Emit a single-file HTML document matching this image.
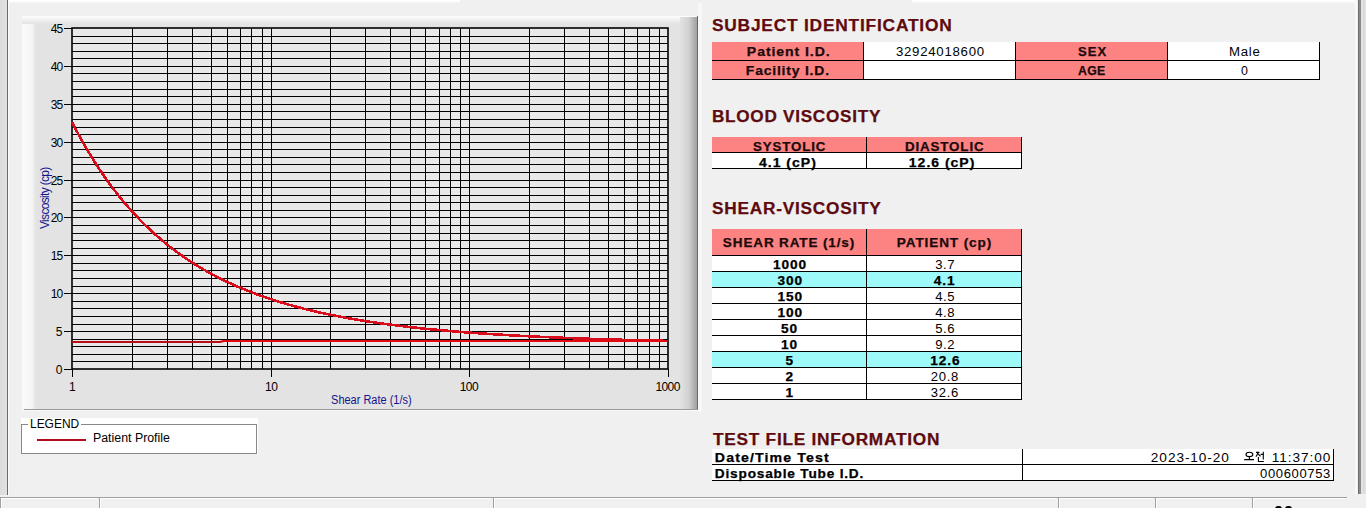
<!DOCTYPE html>
<html><head><meta charset="utf-8">
<style>
html,body{margin:0;padding:0;}
body{width:1366px;height:508px;overflow:hidden;background:#f0f0f0;position:relative;font-family:"Liberation Sans",sans-serif;}
.a{position:absolute;}
.t{position:absolute;white-space:nowrap;}
</style></head><body>

<div class="a" style="left:9px;top:0;width:451px;height:3px;background:linear-gradient(#fff,#fff 40%,#f0f0f0)"></div>
<div class="a" style="left:912px;top:0;width:444px;height:3px;background:linear-gradient(#fff,#fff 40%,#f0f0f0)"></div>
<div class="a" style="left:0;top:0;width:7px;height:495px;background:linear-gradient(90deg,#dcdcdc 0,#dcdcdc 2px,#e4e4e4 3px,#dadada 4px,#e2e2e2 6px)"></div>
<div class="a" style="left:7px;top:0;width:1px;height:495px;background:#6a6a6a"></div>
<div class="a" style="left:8px;top:0;width:1px;height:495px;background:#fbfbfb"></div>
<div class="a" style="left:1355px;top:0;width:2px;height:494px;background:#f8f8f8"></div>
<div class="a" style="left:1358px;top:0;width:1px;height:494px;background:#707070"></div>
<div class="a" style="left:1359px;top:0;width:2px;height:494px;background:#8a8a8a"></div>
<div class="a" style="left:1361px;top:0;width:5px;height:494px;background:linear-gradient(90deg,#e2e2e2,#e2e2e2 2px,#d4d4d4 3px,#e4e4e4 4px)"></div>

<svg class="a" style="left:0;top:0" width="704" height="412">
<defs>
<linearGradient id="gl" x1="0" x2="1" y1="0" y2="0"><stop offset="0" stop-color="#fafafa"/><stop offset="0.7" stop-color="#f5f5f5"/><stop offset="1" stop-color="#e3e3e3"/></linearGradient>
<linearGradient id="gr" x1="0" x2="1" y1="0" y2="0"><stop offset="0" stop-color="#e2e2e2"/><stop offset="0.5" stop-color="#d2d2d2"/><stop offset="1" stop-color="#a0a0a0"/></linearGradient>
<linearGradient id="gt" x1="0" x2="0" y1="0" y2="1"><stop offset="0" stop-color="#fdfdfd"/><stop offset="1" stop-color="#e2e2e2"/></linearGradient>
</defs>
<rect x="22" y="16" width="676" height="393" fill="#e3e3e3"/>
<rect x="22" y="16" width="14" height="393" fill="url(#gl)"/>
<rect x="22" y="16" width="676" height="8" fill="url(#gt)"/>
<rect x="680" y="17" width="17" height="392" fill="url(#gr)"/>
<rect x="697" y="16" width="1" height="393" fill="#6a6a6a"/>
<rect x="24" y="409" width="674" height="1" fill="#9a9a9a"/>
<rect x="21" y="410" width="677" height="1" fill="#f8f8f8"/>
<rect x="698" y="3" width="4" height="409" fill="#f7f7f7"/>
<rect x="72" y="28" width="596" height="341" fill="#e8e8e8"/>
<path d="M72 361.5H668M72 354.5H668M72 346.5H668M72 339.5H668M72 331.5H668M72 324.5H668M72 316.5H668M72 308.5H668M72 301.5H668M72 293.5H668M72 286.5H668M72 278.5H668M72 270.5H668M72 263.5H668M72 255.5H668M72 248.5H668M72 240.5H668M72 233.5H668M72 225.5H668M72 217.5H668M72 210.5H668M72 202.5H668M72 195.5H668M72 187.5H668M72 180.5H668M72 172.5H668M72 164.5H668M72 157.5H668M72 149.5H668M72 142.5H668M72 134.5H668M72 127.5H668M72 119.5H668M72 111.5H668M72 104.5H668M72 96.5H668M72 89.5H668M72 81.5H668M72 73.5H668M72 66.5H668M72 58.5H668M72 51.5H668M72 43.5H668M72 36.5H668M132.5 28V369M167.5 28V369M192.5 28V369M211.5 28V369M227.5 28V369M240.5 28V369M251.5 28V369M262.5 28V369M271.5 28V369M330.5 28V369M365.5 28V369M390.5 28V369M410.5 28V369M425.5 28V369M439.5 28V369M450.5 28V369M460.5 28V369M469.5 28V369M529.5 28V369M564.5 28V369M589.5 28V369M608.5 28V369M624.5 28V369M637.5 28V369M649.5 28V369M659.5 28V369" stroke="#000" stroke-width="1" fill="none" shape-rendering="crispEdges"/>
<path d="M64 369.5H72M64 331.5H72M64 293.5H72M64 255.5H72M64 217.5H72M64 180.5H72M64 142.5H72M64 104.5H72M64 66.5H72M64 28.5H72M72.5 369V377M271.5 369V377M469.5 369V377M668.5 369V377" stroke="#000" stroke-width="1" fill="none" shape-rendering="crispEdges"/>
<rect x="72" y="28" width="596" height="341" fill="none" stroke="#000" stroke-width="1.6"/>
<polyline points="72,122.09 73,124.04 74,125.97 75,127.88 76,129.77 77,131.65 78,133.50 79,135.34 80,137.16 81,138.96 82,140.75 83,142.52 84,144.27 85,146.00 86,147.72 87,149.42 88,151.11 89,152.78 90,154.43 91,156.07 92,157.69 93,159.29 94,160.89 95,162.46 96,164.02 97,165.57 98,167.10 99,168.61 100,170.11 101,171.60 102,173.07 103,174.53 104,175.98 105,177.41 106,178.83 107,180.23 108,181.62 109,183.00 110,184.37 111,185.72 112,187.06 113,188.39 114,189.70 115,191.00 116,192.29 117,193.57 118,194.84 119,196.09 120,197.33 121,198.57 122,199.78 123,200.99 124,202.19 125,203.37 126,204.55 127,205.71 128,206.86 129,208.01 130,209.14 131,210.26 132,211.37 133,212.47 134,213.56 135,214.64 136,215.71 137,216.77 138,217.82 139,218.86 140,219.89 141,220.91 142,221.92 143,222.93 144,223.92 145,224.91 146,225.88 147,226.85 148,227.81 149,228.75 150,229.69 151,230.63 152,231.55 153,232.46 154,233.37 155,234.27 156,235.16 157,236.04 158,236.92 159,237.78 160,238.64 161,239.49 162,240.33 163,241.17 164,242.00 165,242.82 166,243.63 167,244.44 168,245.24 169,246.03 170,246.81 171,247.59 172,248.36 173,249.12 174,249.88 175,250.63 176,251.37 177,252.11 178,252.84 179,253.56 180,254.28 181,254.99 182,255.69 183,256.39 184,257.08 185,257.77 186,258.45 187,259.12 188,259.79 189,260.45 190,261.11 191,261.76 192,262.41 193,263.05 194,263.68 195,264.31 196,264.93 197,265.55 198,266.16 199,266.76 200,267.37 201,267.96 202,268.55 203,269.14 204,269.72 205,270.29 206,270.86 207,271.43 208,271.99 209,272.55 210,273.10 211,273.64 212,274.18 213,274.72 214,275.25 215,275.78 216,276.30 217,276.82 218,277.34 219,277.85 220,278.35 221,278.85 222,279.35 223,279.84 224,280.33 225,280.82 226,281.30 227,281.77 228,282.24 229,282.71 230,283.18 231,283.64 232,284.09 233,284.55 234,284.99 235,285.44 236,285.88 237,286.32 238,286.75 239,287.18 240,287.61 241,288.03 242,288.45 243,288.87 244,289.28 245,289.69 246,290.09 247,290.50 248,290.89 249,291.29 250,291.68 251,292.07 252,292.46 253,292.84 254,293.22 255,293.60 256,293.97 257,294.34 258,294.71 259,295.07 260,295.43 261,295.79 262,296.14 263,296.50 264,296.85 265,297.19 266,297.54 267,297.88 268,298.22 269,298.55 270,298.88 271,299.21 272,299.54 273,299.87 274,300.19 275,300.51 276,300.82 277,301.14 278,301.45 279,301.76 280,302.07 281,302.37 282,302.67 283,302.97 284,303.27 285,303.56 286,303.86 287,304.14 288,304.43 289,304.72 290,305.00 291,305.28 292,305.56 293,305.84 294,306.11 295,306.38 296,306.65 297,306.92 298,307.19 299,307.45 300,307.71 301,307.97 302,308.23 303,308.48 304,308.74 305,308.99 306,309.24 307,309.48 308,309.73 309,309.97 310,310.21 311,310.45 312,310.69 313,310.93 314,311.16 315,311.39 316,311.62 317,311.85 318,312.08 319,312.30 320,312.53 321,312.75 322,312.97 323,313.19 324,313.40 325,313.62 326,313.83 327,314.04 328,314.25 329,314.46 330,314.67 331,314.87 332,315.08 333,315.28 334,315.48 335,315.68 336,315.88 337,316.07 338,316.27 339,316.46 340,316.65 341,316.84 342,317.03 343,317.22 344,317.40 345,317.59 346,317.77 347,317.95 348,318.13 349,318.31 350,318.49 351,318.67 352,318.84 353,319.01 354,319.19 355,319.36 356,319.53 357,319.70 358,319.86 359,320.03 360,320.19 361,320.36 362,320.52 363,320.68 364,320.84 365,321.00 366,321.16 367,321.31 368,321.47 369,321.62 370,321.77 371,321.93 372,322.08 373,322.23 374,322.37 375,322.52 376,322.67 377,322.81 378,322.96 379,323.10 380,323.24 381,323.38 382,323.52 383,323.66 384,323.80 385,323.94 386,324.07 387,324.21 388,324.34 389,324.48 390,324.61 391,324.74 392,324.87 393,325.00 394,325.13 395,325.25 396,325.38 397,325.50 398,325.63 399,325.75 400,325.88 401,326.00 402,326.12 403,326.24 404,326.36 405,326.48 406,326.59 407,326.71 408,326.83 409,326.94 410,327.06 411,327.17 412,327.28 413,327.39 414,327.50 415,327.62 416,327.72 417,327.83 418,327.94 419,328.05 420,328.15 421,328.26 422,328.37 423,328.47 424,328.57 425,328.68 426,328.78 427,328.88 428,328.98 429,329.08 430,329.18 431,329.28 432,329.37 433,329.47 434,329.57 435,329.66 436,329.76 437,329.85 438,329.95 439,330.04 440,330.13 441,330.22 442,330.32 443,330.41 444,330.50 445,330.58 446,330.67 447,330.76 448,330.85 449,330.94 450,331.02 451,331.11 452,331.19 453,331.28 454,331.36 455,331.44 456,331.53 457,331.61 458,331.69 459,331.77 460,331.85 461,331.93 462,332.01 463,332.09 464,332.17 465,332.25 466,332.32 467,332.40 468,332.48 469,332.55 470,332.63 471,332.70 472,332.78 473,332.85 474,332.92 475,333.00 476,333.07 477,333.14 478,333.21 479,333.28 480,333.35 481,333.42 482,333.49 483,333.56 484,333.63 485,333.69 486,333.76 487,333.83 488,333.90 489,333.96 490,334.03 491,334.09 492,334.16 493,334.22 494,334.29 495,334.35 496,334.41 497,334.47 498,334.54 499,334.60 500,334.66 501,334.72 502,334.78 503,334.84 504,334.90 505,334.96 506,335.02 507,335.08 508,335.14 509,335.19 510,335.25 511,335.31 512,335.36 513,335.42 514,335.48 515,335.53 516,335.59 517,335.64 518,335.70 519,335.75 520,335.80 521,335.86 522,335.91 523,335.96 524,336.02 525,336.07 526,336.12 527,336.17 528,336.22 529,336.27 530,336.32 531,336.37 532,336.42 533,336.47 534,336.52 535,336.57 536,336.62 537,336.67 538,336.71 539,336.76 540,336.81 541,336.85 542,336.90 543,336.95 544,336.99 545,337.04 546,337.08 547,337.13 548,337.17 549,337.22 550,337.26 551,337.31 552,337.35 553,337.39 554,337.44 555,337.48 556,337.52 557,337.56 558,337.61 559,337.65 560,337.69 561,337.73 562,337.77 563,337.81 564,337.85 565,337.89 566,337.93 567,337.97 568,338.01 569,338.05 570,338.09 571,338.13 572,338.16 573,338.20 574,338.24 575,338.28 576,338.32 577,338.35 578,338.39 579,338.43 580,338.46 581,338.50 582,338.53 583,338.57 584,338.61 585,338.64 586,338.68 587,338.71 588,338.75 589,338.78 590,338.81 591,338.85 592,338.88 593,338.92 594,338.95 595,338.98 596,339.01 597,339.05 598,339.08 599,339.11 600,339.14 601,339.18 602,339.21 603,339.24 604,339.27 605,339.30 606,339.33 607,339.36 608,339.39 609,339.42 610,339.45 611,339.48 612,339.51 613,339.54 614,339.57 615,339.60 616,339.63 617,339.66 618,339.69 619,339.72 620,339.74 621,339.77 622,339.80 623,339.83 624,339.85 625,339.88 626,339.91 627,339.94 628,339.96 629,339.99 630,340.02 631,340.04 632,340.07 633,340.10 634,340.12 635,340.15 636,340.17 637,340.20 638,340.22 639,340.25 640,340.27 641,340.30 642,340.32 643,340.35 644,340.37 645,340.40 646,340.42 647,340.44 648,340.47 649,340.49 650,340.51 651,340.54 652,340.56 653,340.58 654,340.61 655,340.63 656,340.65 657,340.67 658,340.70 659,340.72 660,340.74 661,340.76 662,340.78 663,340.81 664,340.83 665,340.85 666,340.87 667,340.89 668,340.91" fill="none" stroke="#d80c1a" stroke-width="2.6" stroke-linejoin="round" shape-rendering="crispEdges"/>
<path d="M72 342H221L223 341H668" stroke="none" fill="none"/>
<path d="M72 342H220L224 341H668" stroke="#b80e1a" stroke-width="2" fill="none"/>
<path d="M222 341H668" stroke="#e00a10" stroke-width="2" fill="none"/>
<g font-family="Liberation Sans, sans-serif" font-size="12" fill="#000">
<text x="62.5" y="374" text-anchor="end" letter-spacing="0">0</text><text x="62.5" y="336" text-anchor="end" letter-spacing="0">5</text><text x="62.5" y="298" text-anchor="end" letter-spacing="-0.8">10</text><text x="62.5" y="260" text-anchor="end" letter-spacing="-0.8">15</text><text x="62.5" y="222" text-anchor="end" letter-spacing="-0.8">20</text><text x="62.5" y="185" text-anchor="end" letter-spacing="-0.8">25</text><text x="62.5" y="147" text-anchor="end" letter-spacing="-0.8">30</text><text x="62.5" y="109" text-anchor="end" letter-spacing="-0.8">35</text><text x="62.5" y="71" text-anchor="end" letter-spacing="-0.8">40</text><text x="62.5" y="33" text-anchor="end" letter-spacing="-0.8">45</text>
<text x="72.0" y="391" text-anchor="middle" letter-spacing="-0.6">1</text><text x="271.2" y="391" text-anchor="middle" letter-spacing="-0.6">10</text><text x="468.9" y="391" text-anchor="middle" letter-spacing="-0.6">100</text><text x="667.6" y="391" text-anchor="middle" letter-spacing="-0.6">1000</text>
</g>
<text transform="translate(49,229) rotate(-90)" font-family="Liberation Sans, sans-serif" font-size="12" letter-spacing="-0.68" fill="#14148c">Viscosity (cp)</text>
</svg>

<div class="a" style="left:712px;top:42px;width:151px;height:37px;background:#fd8383"></div>
<div class="a" style="left:864px;top:42px;width:151px;height:37px;background:#fff"></div>
<div class="a" style="left:1016px;top:42px;width:151px;height:37px;background:#fd8383"></div>
<div class="a" style="left:1168px;top:42px;width:151px;height:37px;background:#fff"></div>
<div class="a" style="left:712px;top:60px;width:608px;height:1px;background:#000"></div>
<div class="a" style="left:712px;top:79px;width:608px;height:1px;background:#000"></div>
<div class="a" style="left:863px;top:42px;width:1px;height:38px;background:#000"></div>
<div class="a" style="left:1015px;top:42px;width:1px;height:38px;background:#000"></div>
<div class="a" style="left:1167px;top:42px;width:1px;height:38px;background:#000"></div>
<div class="a" style="left:1319px;top:42px;width:1px;height:38px;background:#000"></div>
<div class="a" style="left:712px;top:137px;width:309px;height:15px;background:#fd8383"></div>
<div class="a" style="left:712px;top:153px;width:309px;height:15px;background:#fff"></div>
<div class="a" style="left:712px;top:152px;width:310px;height:1px;background:#000"></div>
<div class="a" style="left:712px;top:168px;width:310px;height:1px;background:#000"></div>
<div class="a" style="left:866px;top:137px;width:1px;height:32px;background:#000"></div>
<div class="a" style="left:1021px;top:137px;width:1px;height:32px;background:#000"></div>
<div class="a" style="left:712px;top:229px;width:309px;height:26px;background:#fd8383"></div>
<div class="a" style="left:712px;top:255px;width:310px;height:1px;background:#000"></div>
<div class="a" style="left:712px;top:256px;width:309px;height:15px;background:#fff"></div>
<div class="a" style="left:712px;top:271px;width:310px;height:1px;background:#000"></div>
<div class="a" style="left:712px;top:272px;width:309px;height:15px;background:#9ef9f9"></div>
<div class="a" style="left:712px;top:287px;width:310px;height:1px;background:#000"></div>
<div class="a" style="left:712px;top:288px;width:309px;height:15px;background:#fff"></div>
<div class="a" style="left:712px;top:303px;width:310px;height:1px;background:#000"></div>
<div class="a" style="left:712px;top:304px;width:309px;height:15px;background:#fff"></div>
<div class="a" style="left:712px;top:319px;width:310px;height:1px;background:#000"></div>
<div class="a" style="left:712px;top:320px;width:309px;height:15px;background:#fff"></div>
<div class="a" style="left:712px;top:335px;width:310px;height:1px;background:#000"></div>
<div class="a" style="left:712px;top:336px;width:309px;height:15px;background:#fff"></div>
<div class="a" style="left:712px;top:351px;width:310px;height:1px;background:#000"></div>
<div class="a" style="left:712px;top:352px;width:309px;height:15px;background:#9ef9f9"></div>
<div class="a" style="left:712px;top:367px;width:310px;height:1px;background:#000"></div>
<div class="a" style="left:712px;top:368px;width:309px;height:15px;background:#fff"></div>
<div class="a" style="left:712px;top:383px;width:310px;height:1px;background:#000"></div>
<div class="a" style="left:712px;top:384px;width:309px;height:15px;background:#fff"></div>
<div class="a" style="left:712px;top:399px;width:310px;height:1px;background:#000"></div>
<div class="a" style="left:866px;top:229px;width:1px;height:171px;background:#000"></div>
<div class="a" style="left:1021px;top:229px;width:1px;height:171px;background:#000"></div>
<div class="a" style="left:712px;top:449px;width:621px;height:31px;background:#fff"></div>
<div class="a" style="left:712px;top:464px;width:622px;height:1px;background:#000"></div>
<div class="a" style="left:712px;top:480px;width:622px;height:1px;background:#000"></div>
<div class="a" style="left:1022px;top:449px;width:1px;height:32px;background:#000"></div>
<div class="a" style="left:1333px;top:449px;width:1px;height:32px;background:#000"></div>
<div class="a" style="left:21px;top:418px;width:237px;height:36px;background:#fff"></div>
<div class="a" style="left:21px;top:424px;width:234px;height:28px;border:1px solid #888"></div>
<div class="a" style="left:28px;top:418px;width:53px;height:12px;background:#fff"></div>
<div class="a" style="left:37px;top:439px;width:49px;height:2px;background:#b00c1c"></div>

<div class="t" style="left:711.60px;top:18px;font-size:16px;line-height:16px;font-weight:bold;color:#5e0a0e;transform-origin:1.0px 0;transform:scaleX(1.0826);letter-spacing:0.741px;-webkit-text-stroke:0.25px #5e0a0e;">SUBJECT IDENTIFICATION</div>
<div class="t" style="left:712.00px;top:109px;font-size:16px;line-height:16px;font-weight:bold;color:#5e0a0e;transform-origin:1.0px 0;transform:scaleX(1.0709);letter-spacing:0.690px;-webkit-text-stroke:0.25px #5e0a0e;">BLOOD VISCOSITY</div>
<div class="t" style="left:711.60px;top:201px;font-size:16px;line-height:16px;font-weight:bold;color:#5e0a0e;transform-origin:1.0px 0;transform:scaleX(1.0762);letter-spacing:0.733px;-webkit-text-stroke:0.25px #5e0a0e;">SHEAR-VISCOSITY</div>
<div class="t" style="left:712.80px;top:432px;font-size:16px;line-height:16px;font-weight:bold;color:#5e0a0e;transform-origin:0.0px 0;transform:scaleX(1.0772);letter-spacing:0.699px;-webkit-text-stroke:0.25px #5e0a0e;">TEST FILE INFORMATION</div>
<div class="t" style="left:747.00px;top:46px;font-size:12px;line-height:12px;font-weight:bold;color:#1c0a0a;transform-origin:1.0px 0;transform:scaleX(1.1708);letter-spacing:0.796px;-webkit-text-stroke:0.25px #1c0a0a;">Patient I.D.</div>
<div class="t" style="left:895.70px;top:46px;font-size:12px;line-height:12px;font-weight:normal;color:#000;transform-origin:1.0px 0;transform:scaleX(1.1014);letter-spacing:0.663px;">32924018600</div>
<div class="t" style="left:1077.60px;top:46px;font-size:12px;line-height:12px;font-weight:bold;color:#1c0a0a;transform-origin:1.0px 0;transform:scaleX(1.0913);letter-spacing:0.962px;-webkit-text-stroke:0.25px #1c0a0a;">SEX</div>
<div class="t" style="left:1228.50px;top:46px;font-size:12px;line-height:12px;font-weight:normal;color:#000;transform-origin:1.0px 0;transform:scaleX(1.1000);letter-spacing:0.727px;">Male</div>
<div class="t" style="left:746.20px;top:65px;font-size:12px;line-height:12px;font-weight:bold;color:#1c0a0a;transform-origin:1.0px 0;transform:scaleX(1.1581);letter-spacing:0.705px;-webkit-text-stroke:0.25px #1c0a0a;">Facility I.D.</div>
<div class="t" style="left:1077.90px;top:65px;font-size:12px;line-height:12px;font-weight:bold;color:#1c0a0a;transform-origin:0.0px 0;transform:scaleX(1.0250);letter-spacing:0.317px;-webkit-text-stroke:0.25px #1c0a0a;">AGE</div>
<div class="t" style="left:1240.70px;top:65px;font-size:12px;line-height:12px;font-weight:normal;color:#000;transform-origin:0.0px 0;transform:scaleX(1.0333);letter-spacing:0.000px;">0</div>
<div class="t" style="left:753.40px;top:141px;font-size:12px;line-height:12px;font-weight:bold;color:#1c0a0a;transform-origin:1.0px 0;transform:scaleX(1.1078);letter-spacing:0.806px;-webkit-text-stroke:0.25px #1c0a0a;">SYSTOLIC</div>
<div class="t" style="left:904.90px;top:141px;font-size:12px;line-height:12px;font-weight:bold;color:#1c0a0a;transform-origin:1.0px 0;transform:scaleX(1.1119);letter-spacing:0.793px;-webkit-text-stroke:0.25px #1c0a0a;">DIASTOLIC</div>
<div class="t" style="left:759.00px;top:157px;font-size:12px;line-height:12px;font-weight:bold;color:#000;transform-origin:0.0px 0;transform:scaleX(1.1667);letter-spacing:0.857px;-webkit-text-stroke:0.25px #000;">4.1 (cP)</div>
<div class="t" style="left:909.40px;top:157px;font-size:12px;line-height:12px;font-weight:bold;color:#000;transform-origin:1.0px 0;transform:scaleX(1.1656);letter-spacing:0.853px;-webkit-text-stroke:0.25px #000;">12.6 (cP)</div>
<div class="t" style="left:722.80px;top:237px;font-size:12px;line-height:12px;font-weight:bold;color:#1c0a0a;transform-origin:1.0px 0;transform:scaleX(1.1255);letter-spacing:0.773px;-webkit-text-stroke:0.25px #1c0a0a;">SHEAR RATE (1/s)</div>
<div class="t" style="left:896.90px;top:237px;font-size:12px;line-height:12px;font-weight:bold;color:#1c0a0a;transform-origin:1.0px 0;transform:scaleX(1.1304);letter-spacing:0.776px;-webkit-text-stroke:0.25px #1c0a0a;">PATIENT (cp)</div>
<div class="t" style="left:714.60px;top:452px;font-size:12px;line-height:12px;font-weight:bold;color:#000;transform-origin:1.0px 0;transform:scaleX(1.1771);letter-spacing:0.961px;-webkit-text-stroke:0.25px #000;">Date/Time Test</div>
<div class="t" style="left:714.60px;top:468px;font-size:12px;line-height:12px;font-weight:bold;color:#000;transform-origin:1.0px 0;transform:scaleX(1.1348);letter-spacing:0.719px;-webkit-text-stroke:0.25px #000;">Disposable Tube I.D.</div>
<div class="t" style="left:1150.90px;top:452px;font-size:12px;line-height:12px;font-weight:normal;color:#000;transform-origin:1.0px 0;transform:scaleX(1.1375);letter-spacing:0.806px;">2023-10-20</div>
<div class="t" style="left:1271.60px;top:452px;font-size:12px;line-height:12px;font-weight:normal;color:#000;transform-origin:1.0px 0;transform:scaleX(1.1389);letter-spacing:0.784px;">11:37:00</div>
<div class="t" style="left:1259.90px;top:468px;font-size:12px;line-height:12px;font-weight:normal;color:#000;transform-origin:0.0px 0;transform:scaleX(1.0850);letter-spacing:0.588px;">000600753</div>
<div class="t" style="left:330.60px;top:394px;font-size:12px;line-height:12px;font-weight:normal;color:#14148c;transform-origin:1.0px 0;transform:scaleX(0.9151);letter-spacing:0.000px;">Shear Rate (1/s)</div>
<div class="t" style="left:29.60px;top:418px;font-size:12px;line-height:12px;font-weight:normal;color:#000;transform-origin:1.0px 0;transform:scaleX(0.9958);letter-spacing:0.000px;">LEGEND</div>
<div class="t" style="left:92.80px;top:432px;font-size:12px;line-height:12px;font-weight:normal;color:#000;transform-origin:1.0px 0;transform:scaleX(1.0301);letter-spacing:0.000px;">Patient Profile</div>
<div class="t" style="left:712px;width:155px;text-align:center;top:259px;font-size:12px;line-height:12px;font-weight:bold"><span style="display:inline-block;transform:scaleX(1.1375);letter-spacing:0.8px;margin-right:-0.8px;-webkit-text-stroke:0.25px #000;">1000</span></div>
<div class="t" style="left:867px;width:155px;text-align:center;top:259px;font-size:12px;line-height:12px;font-weight:normal"><span style="display:inline-block;transform:scaleX(1.09);letter-spacing:0.58px;margin-right:-0.58px;">3.7</span></div>
<div class="t" style="left:712px;width:155px;text-align:center;top:275px;font-size:12px;line-height:12px;font-weight:bold"><span style="display:inline-block;transform:scaleX(1.1375);letter-spacing:0.8px;margin-right:-0.8px;-webkit-text-stroke:0.25px #000;">300</span></div>
<div class="t" style="left:867px;width:155px;text-align:center;top:275px;font-size:12px;line-height:12px;font-weight:bold"><span style="display:inline-block;transform:scaleX(1.1375);letter-spacing:0.8px;margin-right:-0.8px;-webkit-text-stroke:0.25px #000;">4.1</span></div>
<div class="t" style="left:712px;width:155px;text-align:center;top:291px;font-size:12px;line-height:12px;font-weight:bold"><span style="display:inline-block;transform:scaleX(1.1375);letter-spacing:0.8px;margin-right:-0.8px;-webkit-text-stroke:0.25px #000;">150</span></div>
<div class="t" style="left:867px;width:155px;text-align:center;top:291px;font-size:12px;line-height:12px;font-weight:normal"><span style="display:inline-block;transform:scaleX(1.09);letter-spacing:0.58px;margin-right:-0.58px;">4.5</span></div>
<div class="t" style="left:712px;width:155px;text-align:center;top:307px;font-size:12px;line-height:12px;font-weight:bold"><span style="display:inline-block;transform:scaleX(1.1375);letter-spacing:0.8px;margin-right:-0.8px;-webkit-text-stroke:0.25px #000;">100</span></div>
<div class="t" style="left:867px;width:155px;text-align:center;top:307px;font-size:12px;line-height:12px;font-weight:normal"><span style="display:inline-block;transform:scaleX(1.09);letter-spacing:0.58px;margin-right:-0.58px;">4.8</span></div>
<div class="t" style="left:712px;width:155px;text-align:center;top:323px;font-size:12px;line-height:12px;font-weight:bold"><span style="display:inline-block;transform:scaleX(1.1375);letter-spacing:0.8px;margin-right:-0.8px;-webkit-text-stroke:0.25px #000;">50</span></div>
<div class="t" style="left:867px;width:155px;text-align:center;top:323px;font-size:12px;line-height:12px;font-weight:normal"><span style="display:inline-block;transform:scaleX(1.09);letter-spacing:0.58px;margin-right:-0.58px;">5.6</span></div>
<div class="t" style="left:712px;width:155px;text-align:center;top:339px;font-size:12px;line-height:12px;font-weight:bold"><span style="display:inline-block;transform:scaleX(1.1375);letter-spacing:0.8px;margin-right:-0.8px;-webkit-text-stroke:0.25px #000;">10</span></div>
<div class="t" style="left:867px;width:155px;text-align:center;top:339px;font-size:12px;line-height:12px;font-weight:normal"><span style="display:inline-block;transform:scaleX(1.09);letter-spacing:0.58px;margin-right:-0.58px;">9.2</span></div>
<div class="t" style="left:712px;width:155px;text-align:center;top:355px;font-size:12px;line-height:12px;font-weight:bold"><span style="display:inline-block;transform:scaleX(1.1375);letter-spacing:0.8px;margin-right:-0.8px;-webkit-text-stroke:0.25px #000;">5</span></div>
<div class="t" style="left:867px;width:155px;text-align:center;top:355px;font-size:12px;line-height:12px;font-weight:bold"><span style="display:inline-block;transform:scaleX(1.1375);letter-spacing:0.8px;margin-right:-0.8px;-webkit-text-stroke:0.25px #000;">12.6</span></div>
<div class="t" style="left:712px;width:155px;text-align:center;top:371px;font-size:12px;line-height:12px;font-weight:bold"><span style="display:inline-block;transform:scaleX(1.1375);letter-spacing:0.8px;margin-right:-0.8px;-webkit-text-stroke:0.25px #000;">2</span></div>
<div class="t" style="left:867px;width:155px;text-align:center;top:371px;font-size:12px;line-height:12px;font-weight:normal"><span style="display:inline-block;transform:scaleX(1.09);letter-spacing:0.58px;margin-right:-0.58px;">20.8</span></div>
<div class="t" style="left:712px;width:155px;text-align:center;top:387px;font-size:12px;line-height:12px;font-weight:bold"><span style="display:inline-block;transform:scaleX(1.1375);letter-spacing:0.8px;margin-right:-0.8px;-webkit-text-stroke:0.25px #000;">1</span></div>
<div class="t" style="left:867px;width:155px;text-align:center;top:387px;font-size:12px;line-height:12px;font-weight:normal"><span style="display:inline-block;transform:scaleX(1.09);letter-spacing:0.58px;margin-right:-0.58px;">32.6</span></div>
<svg class="a" style="left:1240px;top:448px" width="28" height="16" viewBox="0 0 28 16" fill="none" stroke="#000" stroke-width="1.1">
<ellipse cx="9.4" cy="6.4" rx="3.4" ry="2.2"/>
<path d="M9.4 8.6V11.3M4.2 11.6H14"/>
<path d="M16 4.4H19.4M17.8 4.6C17.6 6.4 16.8 7.6 15.9 8.6M18 5.6C18.8 6.8 19.6 7.6 20.6 8.2"/>
<path d="M23.3 3.8V11.6M20.6 6.4H23.3M18.4 9V13.5H23.8"/>
</svg>

<div class="a" style="left:0px;top:497px;width:1347px;height:1px;background:#a0a0a0"></div>
<div class="a" style="left:0px;top:497px;width:96px;height:11px;border-left:1px solid #a0a0a0;border-top:1px solid #a0a0a0;background:#f0f0f0;box-shadow:inset 1px 1px 0 #fff"></div>
<div class="a" style="left:99px;top:497px;width:391px;height:11px;border-left:1px solid #a0a0a0;border-top:1px solid #a0a0a0;background:#f0f0f0;box-shadow:inset 1px 1px 0 #fff"></div>
<div class="a" style="left:493px;top:497px;width:562px;height:11px;border-left:1px solid #a0a0a0;border-top:1px solid #a0a0a0;background:#f0f0f0;box-shadow:inset 1px 1px 0 #fff"></div>
<div class="a" style="left:1058px;top:497px;width:94px;height:11px;border-left:1px solid #a0a0a0;border-top:1px solid #a0a0a0;background:#f0f0f0;box-shadow:inset 1px 1px 0 #fff"></div>
<div class="a" style="left:1155px;top:497px;width:94px;height:11px;border-left:1px solid #a0a0a0;border-top:1px solid #a0a0a0;background:#f0f0f0;box-shadow:inset 1px 1px 0 #fff"></div>
<div class="a" style="left:1252px;top:497px;width:94px;height:11px;border-left:1px solid #a0a0a0;border-top:1px solid #a0a0a0;background:#f0f0f0;box-shadow:inset 1px 1px 0 #fff"></div>
<div class="a" style="left:1275px;top:506px;width:7px;height:3px;background:#000;border-radius:3px 3px 0 0"></div><div class="a" style="left:1285px;top:506px;width:7px;height:3px;background:#000;border-radius:3px 3px 0 0"></div>
</body></html>
